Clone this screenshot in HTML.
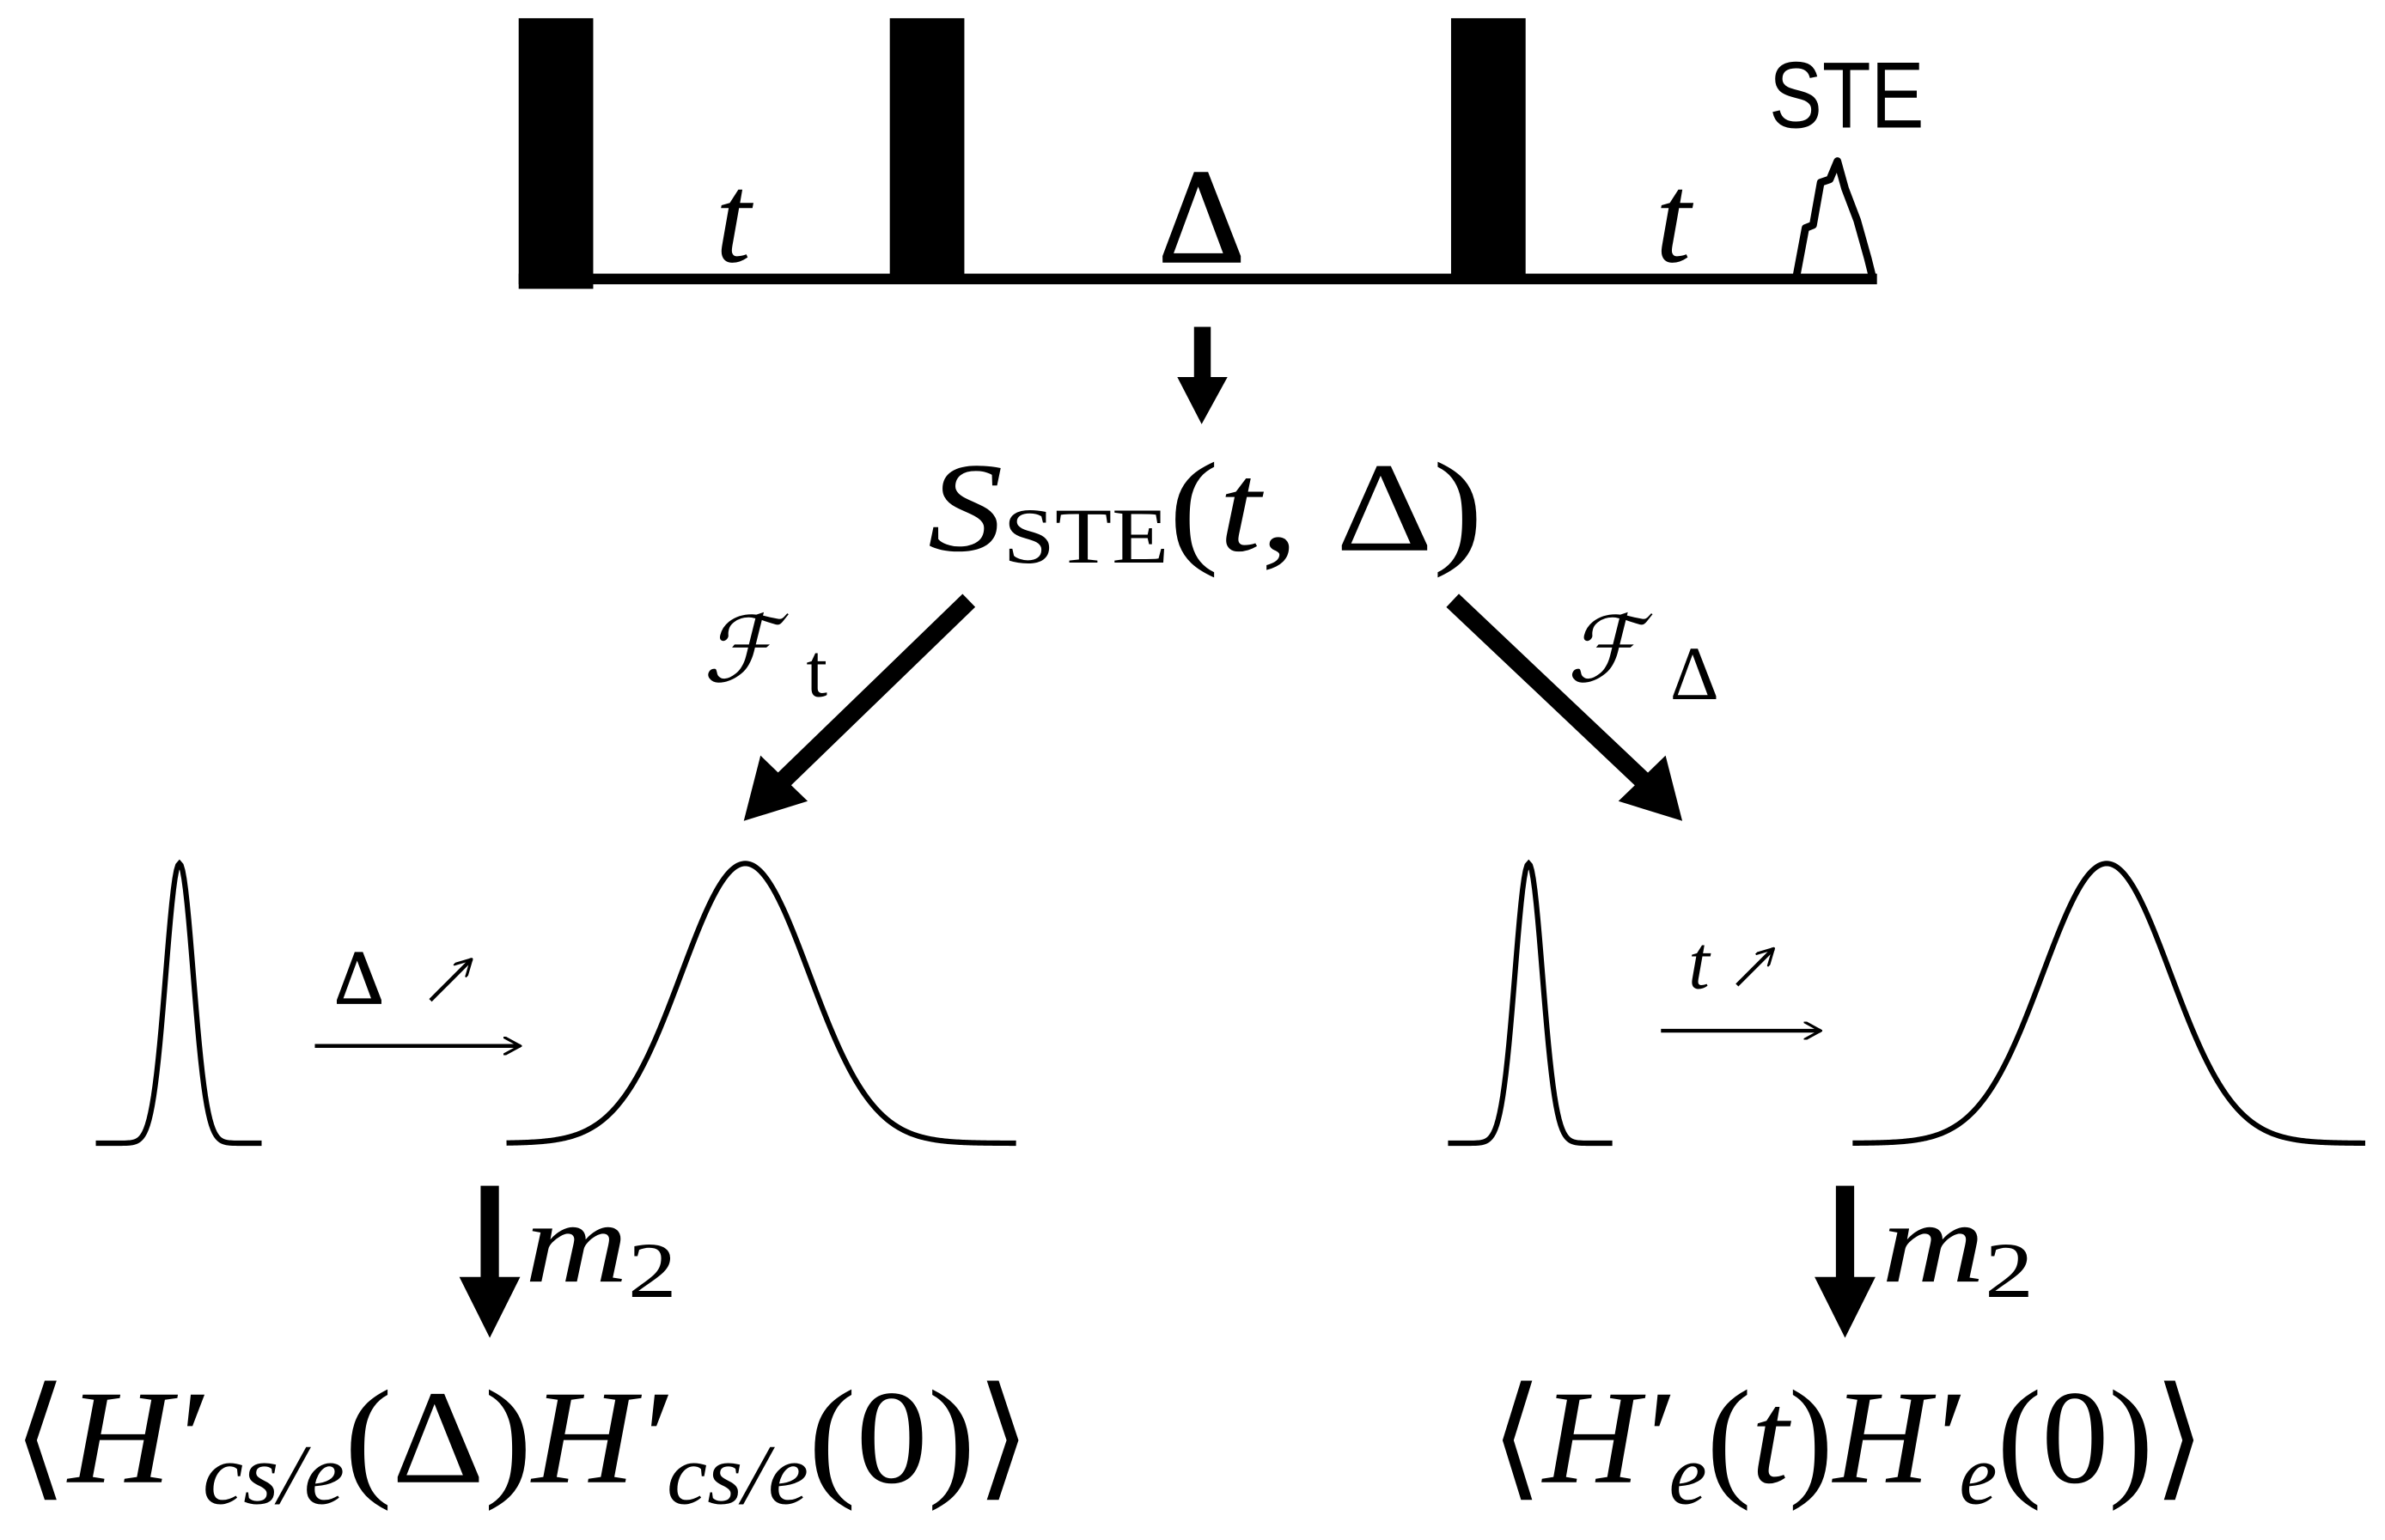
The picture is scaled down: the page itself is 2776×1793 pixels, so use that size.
<!DOCTYPE html>
<html><head><style>html,body{margin:0;padding:0;background:#fff;}svg{display:block}</style></head>
<body>
<svg id="s" width="2776" height="1793" viewBox="0 0 1568 1013" preserveAspectRatio="none" xmlns="http://www.w3.org/2000/svg">
<defs>
<marker id="ah" markerWidth="12" markerHeight="12" refX="11" refY="6" orient="auto" markerUnits="userSpaceOnUse"><path d="M0,0 L11,6 L0,12" fill="none" stroke="#000" stroke-width="1.8"/></marker>
</defs>
<g fill="#000">
<rect x="341" y="12" width="49" height="178"/>
<rect x="585" y="12" width="49" height="172"/>
<rect x="954" y="12" width="49" height="172"/>
<rect x="341" y="180" width="893" height="7"/>
</g>
<path d="M1181,182 L1187,150 L1192,148 L1197,120 L1203,118 L1208,106 L1213,124 L1221,145 L1228,170 L1231,182" fill="none" stroke="#000" stroke-width="5" stroke-linejoin="round"/>
<text x="1163" y="84" font-family="Liberation Sans, sans-serif" font-size="62" textLength="102" lengthAdjust="spacingAndGlyphs">STE</text>
<g font-family="Liberation Serif, serif" font-style="italic" font-size="84" text-anchor="middle">
<text x="482" y="172">t</text>
<text x="1100" y="172">t</text>
</g>
<text x="790" y="172" font-family="Liberation Serif, serif" font-size="88" text-anchor="middle" stroke="#000" stroke-width="1.5">Δ</text>
<rect x="785" y="215" width="11" height="38" fill="#000"/>
<path d="M774,248 L807,248 L790,279 Z" fill="#000"/>
<text font-family="Liberation Serif, serif" font-size="84" y="362" textLength="365" lengthAdjust="spacingAndGlyphs"><tspan x="610" font-style="italic">S</tspan><tspan font-size="52" dy="8">STE</tspan><tspan dy="-8">(</tspan><tspan font-style="italic">t</tspan><tspan>, Δ)</tspan></text>
<line x1="637" y1="395" x2="510" y2="518" stroke="#000" stroke-width="12"/>
<path d="M489,540 L500,497 L531,527 Z" fill="#000"/>
<line x1="955" y1="395" x2="1085" y2="518" stroke="#000" stroke-width="12"/>
<path d="M1106,540 L1064,527 L1095,497 Z" fill="#000"/>
<text x="462" y="448" font-family="Liberation Serif, serif" font-style="italic" font-size="60">ℱ</text>
<text x="530" y="458" font-family="Liberation Serif, serif" font-size="50">t</text>
<text x="1030" y="448" font-family="Liberation Serif, serif" font-style="italic" font-size="60">ℱ</text>
<text x="1098" y="460" font-family="Liberation Serif, serif" font-size="50">Δ</text>
<g fill="none" stroke="#000" stroke-width="3.5">
<path id="g1"/><path id="g2"/><path id="g3"/><path id="g4"/>
<line x1="207" y1="688" x2="342" y2="688" stroke-width="2.5" marker-end="url(#ah)"/>
<line x1="1092" y1="678" x2="1197" y2="678" stroke-width="2.5" marker-end="url(#ah)"/>
<line x1="283" y1="658" x2="310" y2="631" stroke-width="2.5" marker-end="url(#ah)"/>
<line x1="1142" y1="648" x2="1166" y2="624" stroke-width="2.5" marker-end="url(#ah)"/>
</g>
<text x="220" y="660" font-family="Liberation Serif, serif" font-size="50" stroke="#000" stroke-width="1">Δ</text>
<text x="1110" y="650" font-family="Liberation Serif, serif" font-style="italic" font-size="50">t</text>
<rect x="316" y="780" width="12" height="65" fill="#000"/>
<path d="M302,840 L342,840 L322,880 Z" fill="#000"/>
<rect x="1207" y="780" width="12" height="65" fill="#000"/>
<path d="M1193,840 L1233,840 L1213,880 Z" fill="#000"/>
<text font-family="Liberation Serif, serif" font-size="76" y="843" textLength="100" lengthAdjust="spacingAndGlyphs"><tspan x="345" font-style="italic">m</tspan><tspan font-size="52" dy="10">2</tspan></text>
<text font-family="Liberation Serif, serif" font-size="76" y="843" textLength="100" lengthAdjust="spacingAndGlyphs"><tspan x="1237" font-style="italic">m</tspan><tspan font-size="52" dy="10">2</tspan></text>
<text font-family="Liberation Serif, serif" font-size="88" y="975" textLength="670" lengthAdjust="spacingAndGlyphs"><tspan x="8">⟨</tspan><tspan font-style="italic">H′</tspan><tspan font-style="italic" font-size="56" dy="14">cs/e</tspan><tspan dy="-14">(Δ)</tspan><tspan font-style="italic">H′</tspan><tspan font-style="italic" font-size="56" dy="14">cs/e</tspan><tspan dy="-14">(0)⟩</tspan></text>
<text font-family="Liberation Serif, serif" font-size="88" y="975" textLength="470" lengthAdjust="spacingAndGlyphs"><tspan x="980">⟨</tspan><tspan font-style="italic">H′</tspan><tspan font-style="italic" font-size="56" dy="14">e</tspan><tspan dy="-14">(</tspan><tspan font-style="italic">t</tspan><tspan>)</tspan><tspan font-style="italic">H′</tspan><tspan font-style="italic" font-size="56" dy="14">e</tspan><tspan dy="-14">(0)⟩</tspan></text>
<script>
function g(id,a,b,c,s){var d="";for(var x=a;x<=b;x+=1){var y=752-184*Math.exp(-(x-c)*(x-c)/(2*s*s));d+=(x==a?"M":"L")+x+","+y.toFixed(2)+" ";}document.getElementById(id).setAttribute("d",d);}
g("g1",63,172,118,9);g("g2",333,668,490,42);g("g3",952,1060,1005,9);g("g4",1218,1555,1385,42);
</script>
</svg>
</body></html>
